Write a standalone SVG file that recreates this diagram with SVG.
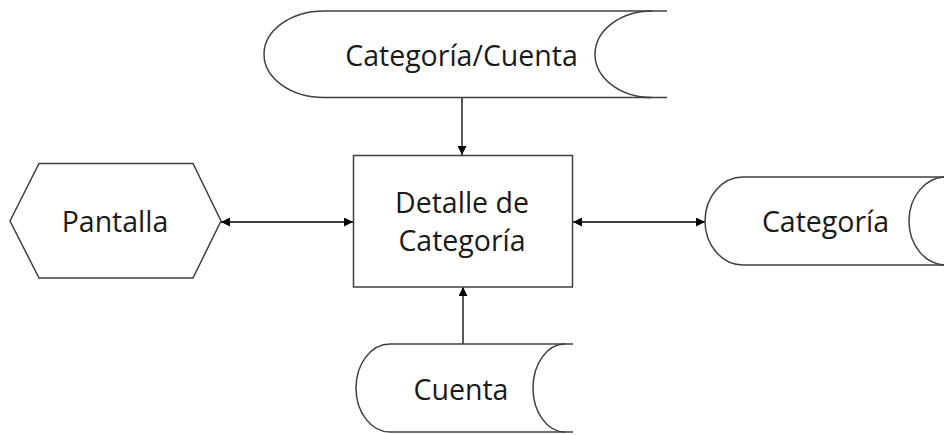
<svg xmlns="http://www.w3.org/2000/svg" width="944" height="435" viewBox="0 0 944 435">
  <style>
    .shape { fill: #ffffff; stroke: #404040; stroke-width: 1.5; }
    .edge { fill: none; stroke: #404040; stroke-width: 1.5; }
    .link { fill: none; stroke: #000000; stroke-width: 1.3; }
    .label { font-family: "Open Sans", "Liberation Sans", sans-serif; font-size: 28.5px; fill: #1a1a1a; text-anchor: middle; }
  </style>
  <defs>
    <marker id="arrow" viewBox="0 0 10 10" refX="10" refY="5" markerWidth="9" markerHeight="9" markerUnits="userSpaceOnUse" orient="auto-start-reverse">
      <path d="M0,0 L10,5 L0,10 Z" fill="#000000"/>
    </marker>
  </defs>

  <rect width="944" height="435" fill="#ffffff"/>

  <!-- connectors -->
  <g id="connectors">
    <line class="link" x1="462" y1="98" x2="462" y2="155" marker-end="url(#arrow)"/>
    <line class="link" x1="463" y1="344" x2="463" y2="287" marker-end="url(#arrow)"/>
    <line class="link" x1="221" y1="222" x2="353" y2="222" marker-start="url(#arrow)" marker-end="url(#arrow)"/>
    <line class="link" x1="573" y1="222" x2="705" y2="222" marker-start="url(#arrow)" marker-end="url(#arrow)"/>
  </g>

  <!-- stored data: Categoría/Cuenta -->
  <g id="store-categoria-cuenta">
    <path class="shape" d="M667,11 H324 A60,43.25 0 0 0 324,97.5 H667"/>
    <path class="edge" d="M652,11 A57,43.25 0 0 0 652,97.5"/>
    <text class="label" x="461.5" y="66">Categoría/Cuenta</text>
  </g>

  <!-- process: Detalle de Categoría -->
  <g id="process-detalle">
    <rect class="shape" x="353.5" y="155.5" width="219" height="131.5"/>
    <text class="label" x="462" y="213">Detalle de</text>
    <text class="label" x="462" y="251">Categoría</text>
  </g>

  <!-- display: Pantalla -->
  <g id="display-pantalla">
    <polygon class="shape" points="10,221 39,163.5 193,163.5 221,221 193,278 39,278"/>
    <text class="label" x="115" y="232">Pantalla</text>
  </g>

  <!-- stored data: Categoría -->
  <g id="store-categoria">
    <path class="shape" d="M958,177 H743 A38,44 0 0 0 743,265 H958"/>
    <path class="edge" d="M946,177 A37,44 0 0 0 946,265"/>
    <text class="label" x="825.5" y="232">Categoría</text>
  </g>

  <!-- stored data: Cuenta -->
  <g id="store-cuenta">
    <path class="shape" d="M573,344 H390 A34,44 0 0 0 390,432 H573"/>
    <path class="edge" d="M565,344 A32,44 0 0 0 565,432"/>
    <text class="label" x="461" y="400">Cuenta</text>
  </g>
</svg>
